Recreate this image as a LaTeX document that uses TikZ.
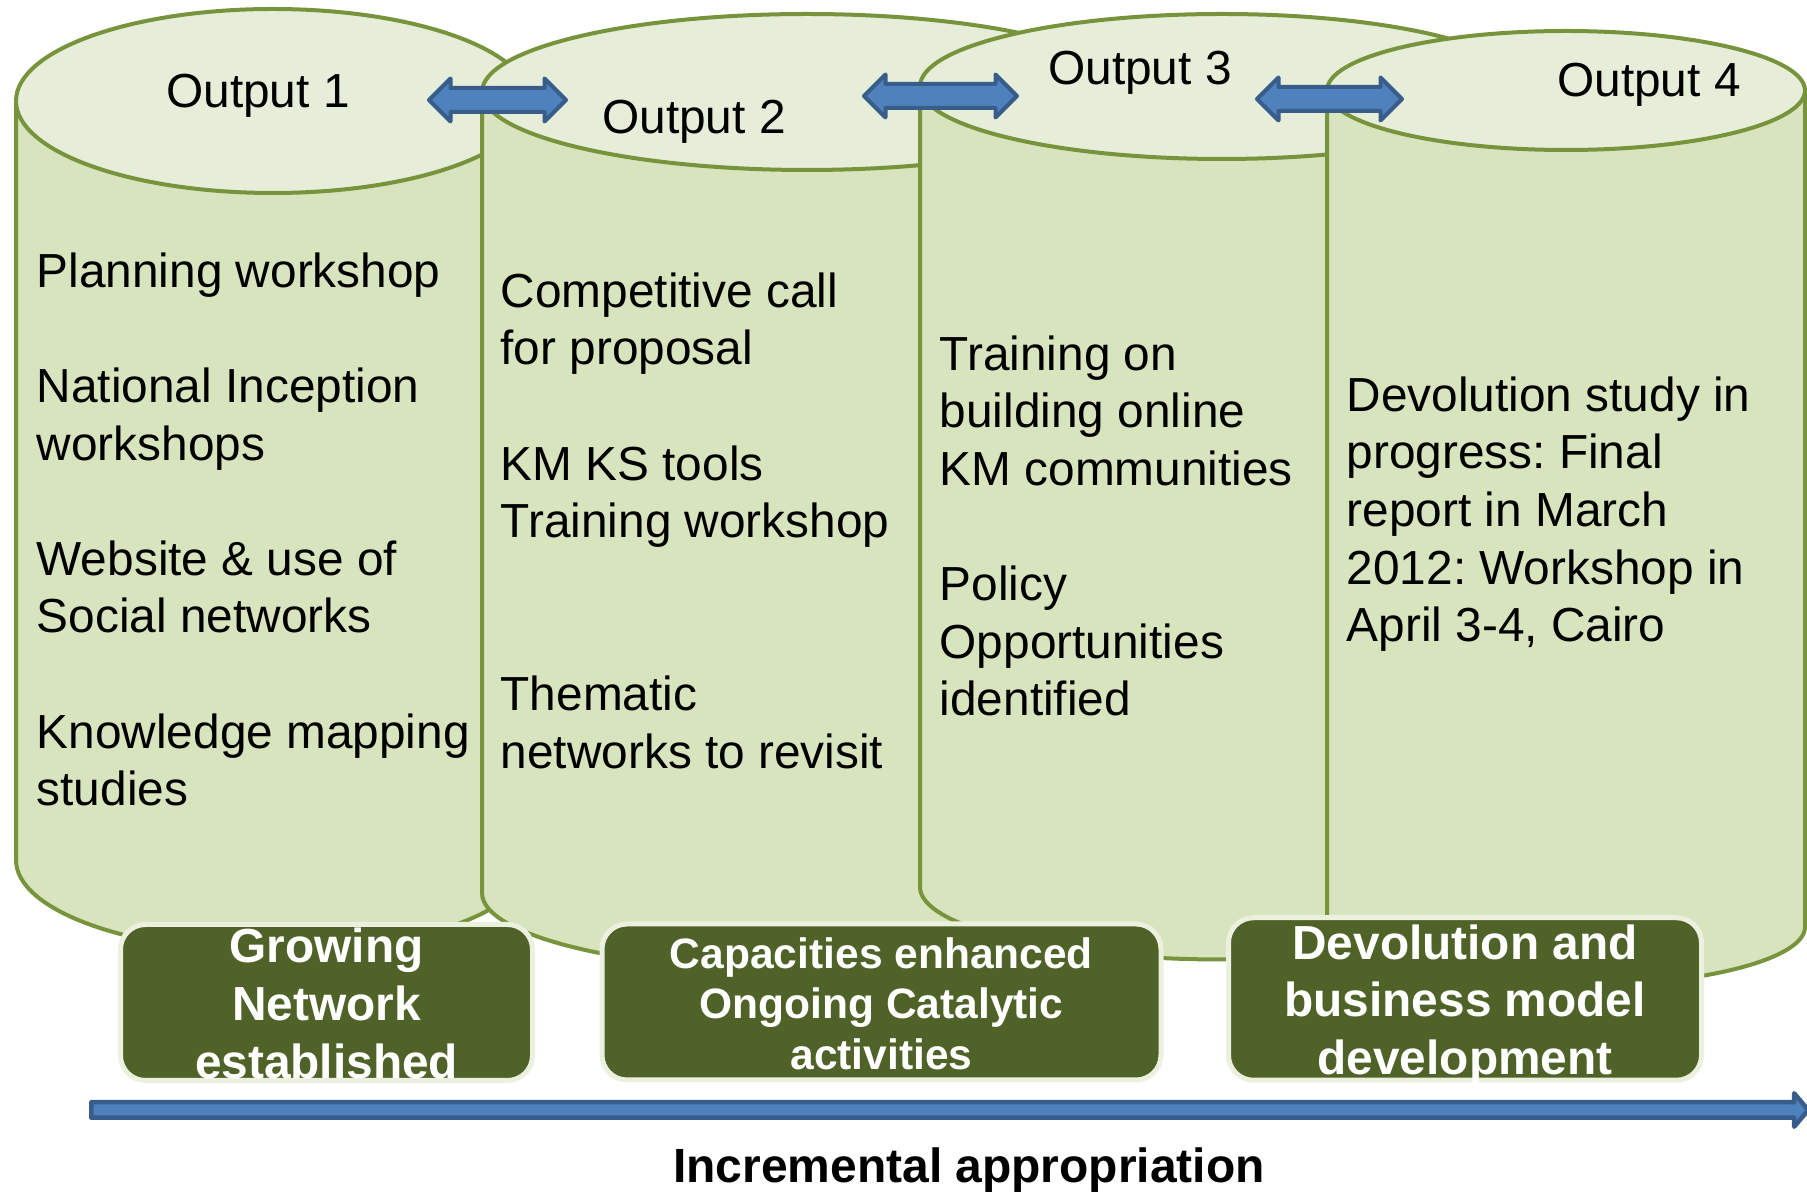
\documentclass[tikz,border=0pt]{standalone}
\usepackage{fontspec}
\setmainfont{Liberation Sans}
\usetikzlibrary{shapes.arrows}
\definecolor{cylfill}{HTML}{D7E4BD}
\definecolor{cyltopfill}{HTML}{E6EED9}
\definecolor{cylrim}{HTML}{77933C}
\definecolor{boxfill}{HTML}{4F6228}
\definecolor{boxrim}{HTML}{EBF1DE}
\definecolor{arrowfill}{HTML}{4F81BD}
\definecolor{arrowrim}{HTML}{385D8A}
\frenchspacing

\begin{document}
\begin{tikzpicture}[x=0.1mm, y=-0.1mm, line join=round]
        \tikzset{
            cylbody/.style={fill=cylfill, draw=cylrim, line width=0.4mm},
            cyltop/.style={fill=cyltopfill, draw=cylrim, line width=0.4mm},
            linkarrow/.style={
                    double arrow, draw=arrowrim, fill=arrowfill,
                    line width=0.4mm, inner xsep=0, inner ysep=1mm,
                    double arrow head extend=0.95mm
                },
            timearrow/.style={
                    single arrow, draw=arrowrim, fill=arrowfill,
                    line width=0.45mm, inner xsep=0, inner ysep=0.55mm,
                    single arrow head extend=0.9mm,
                    single arrow tip angle=100
                },
            resbox/.style={
                    draw=boxrim, fill=boxfill, line width=0.5mm,
                    rounded corners=2.5mm, inner sep=0
                },
            restext/.style={text=white, align=center, inner sep=0},
            outlabel/.style={font=\fontsize{13.6}{16}\selectfont, inner sep=0, anchor=base},
            coltext/.style={font=\fontsize{13.6}{16.39}\selectfont, align=left, inner sep=0, anchor=north west}
        }
        \useasboundingbox (0,0) rectangle (1807,1192);
        % cylinders, back to front
        \foreach \cx/\rx/\ty/\ry/\by in {273/257/101/92/860, 807/325/92/78/893, 1222/302/86.5/72.5/887, 1566/239/90.5/59.5/927}{
            \draw[cylbody] (\cx-\rx,\ty) -- (\cx-\rx,\by)
                arc[start angle=180, end angle=0, x radius=\rx, y radius=\ry] -- (\cx+\rx,\ty);
            \draw[cyltop] (\cx,\ty) ellipse[x radius=\rx, y radius=\ry];
        }
        \node[outlabel] (out1) at (258,108) {Output 1};
        \node[outlabel] (out2) at (694,134) {Output 2};
        \node[outlabel] (out3) at (1140,85) {Output 3};
        \node[outlabel] (out4) at (1649,97) {Output 4};
        \node[linkarrow, minimum height=13.7mm] (link12) at (497.5,100) {};
        \node[linkarrow, minimum height=15.3mm] (link23) at (940.5,96) {};
        \node[linkarrow, minimum height=14.5mm] (link34) at (1329.5,99) {};
        \node[coltext] (col1) at (36,252) {Planning workshop\\[16.39pt]National Inception\\workshops\\[16.39pt]Website \& use of\\Social networks\\[16.39pt]Knowledge mapping\\studies};
        \node[coltext] (col2) at (500,272) {Competitive call\\for proposal\\[16.39pt]KM KS tools\\Training workshop\\[32.78pt]Thematic\\networks to revisit};
        \node[coltext] (col3) at (939,335) {Training on\\building online\\KM communities\\[16.39pt]Policy\\Opportunities\\identified};
        \node[coltext] (col4) at (1346,376) {Devolution study in\\progress: Final\\report in March\\2012: Workshop in\\April 3-4, Cairo};
        % results along the bottom
        \node[resbox, minimum width=41.2mm, minimum height=15.6mm] (res1) at (326.5,1002.5) {};
        \node[resbox, minimum width=55.9mm, minimum height=15.6mm] (res2) at (881.5,1002) {};
        \node[resbox, minimum width=47.3mm, minimum height=16.25mm] (res3) at (1465,999) {};
        \node[restext, font=\bfseries\fontsize{13.6}{16.4}\selectfont] (lbl1) at (326.5,1003.4) {Growing\\Network\\established};
        \node[restext, font=\bfseries\fontsize{12.1}{14.4}\selectfont] (lbl2) at (881.5,1003.5) {Capacities enhanced\\Ongoing Catalytic\\activities};
        \node[restext, font=\bfseries\fontsize{13.6}{16.4}\selectfont] (lbl3) at (1465,1004.5) {Devolution and\\business model\\development};
        \node[timearrow, minimum height=171.7mm] (time) at (946.5,1110) {};
        \node[font=\bfseries\fontsize{13.65}{16}\selectfont, inner sep=0, anchor=base] (timelbl) at (969,1183) {Incremental appropriation};
\end{tikzpicture}
\end{document}
